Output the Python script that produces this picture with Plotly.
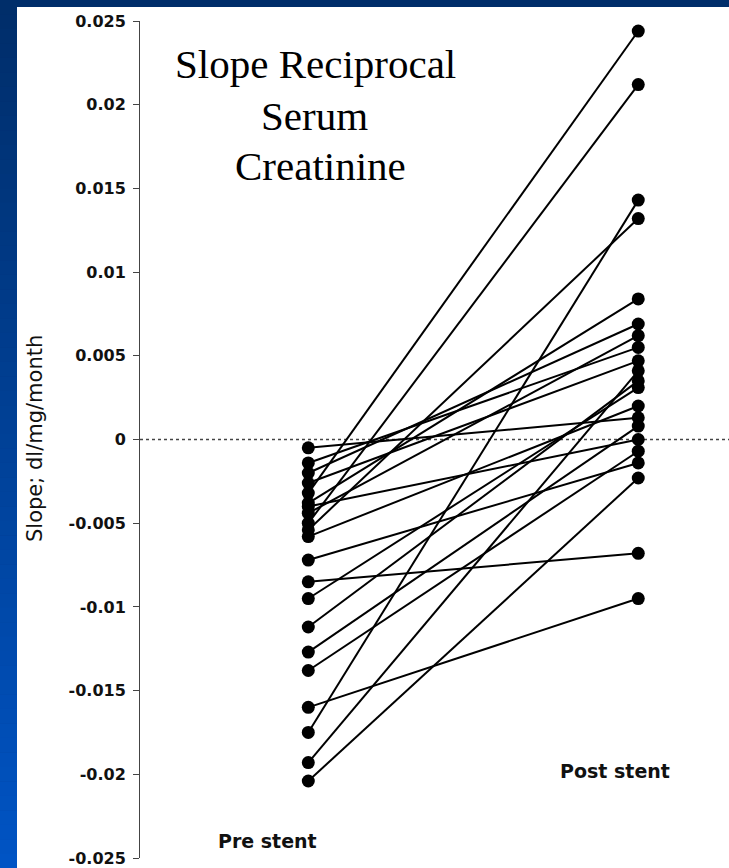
import plotly.graph_objects as go

# ---- data ----
groups = ["Pre stent", "Post stent"]
pre_values = [-0.0204, -0.0193, -0.0175, -0.0160, -0.0138, -0.0127, -0.0112,
              -0.0095, -0.0085, -0.0072, -0.0032, -0.0050, -0.0054, -0.0005,
              -0.0014, -0.0020, -0.0026, -0.0038, -0.0044, -0.0058, -0.0040]
post_values = [-0.0023, 0.0041, 0.0143, -0.0095, -0.0007, 0.0008, 0.0035,
               0.0031, -0.0068, -0.0014, 0.0244, 0.0212, 0.0132, 0.0013,
               0.0055, 0.0069, 0.0047, 0.0084, 0.0062, 0.0020, 0.0000]
tick_values = [0.025, 0.02, 0.015, 0.01, 0.005, 0, -0.005, -0.01, -0.015, -0.02, -0.025]
tick_labels = ["0.025", "0.02", "0.015", "0.01", "0.005", "0", "-0.005", "-0.01",
               "-0.015", "-0.02", "-0.025"]
title_lines = ["Slope Reciprocal", "Serum", "Creatinine"]
y_title = "Slope; dl/mg/month"

W, H = 729, 868
L, R, T, B = 140, 0, 21, 10
PW, PH = W - L - R, H - T - B


def px(x):
    return (x - L) / PW


def py(y):
    return (H - B - y) / PH


fig = go.Figure()
for a, b in zip(pre_values, post_values):
    fig.add_trace(go.Scatter(
        x=groups, y=[a, b], mode="lines+markers",
        line=dict(color="black", width=2),
        marker=dict(color="black", size=13),
        showlegend=False, hoverinfo="skip"))

shapes = []
# blue gradient frame (left strip) and navy top
n = 60
c0 = (0, 46, 106)
c1 = (0, 84, 196)
for i in range(n):
    t = i / (n - 1)
    col = "rgb(%d,%d,%d)" % tuple(int(c0[k] + (c1[k] - c0[k]) * t) for k in range(3))
    shapes.append(dict(type="rect", xref="paper", yref="paper",
                       x0=px(0), x1=px(17.5), y0=py(H * (i + 1) / n + 0.5), y1=py(H * i / n),
                       fillcolor=col, line=dict(width=0), layer="below"))
# white panel
shapes.append(dict(type="rect", xref="paper", yref="paper",
                   x0=px(17), x1=px(W + 2), y0=py(H + 2), y1=py(7),
                   fillcolor="white", line=dict(width=0), layer="below"))
# dotted zero reference line
shapes.append(dict(type="line", xref="paper", yref="y", x0=0, x1=1, y0=0, y1=0,
                   line=dict(color="#444444", width=1.3, dash="dot"), layer="below"))

annotations = []
title_pos = [(315, 64), (314, 116), (320, 166)]
for txt, (xx, yy) in zip(title_lines, title_pos):
    annotations.append(dict(text=txt, xref="paper", yref="paper", x=px(xx), y=py(yy),
                            xanchor="center", yanchor="middle", showarrow=False,
                            font=dict(family="Liberation Serif, Times New Roman, serif",
                                      size=41, color="black")))
annotations.append(dict(text=y_title, xref="paper", yref="paper", x=px(35), y=py(439),
                        xanchor="center", yanchor="middle", textangle=-90, showarrow=False,
                        font=dict(family="DejaVu Sans, Arial, sans-serif", size=21, color="#111111")))
label_pos = [(267, 841), (615, 771)]
for g, (xx, yy) in zip(groups, label_pos):
    annotations.append(dict(text=g, xref="paper", yref="paper", x=px(xx), y=py(yy),
                            xanchor="center", yanchor="middle", showarrow=False,
                            font=dict(family="DejaVu Sans, Arial, sans-serif", size=19,
                                      color="#111111", weight="bold")))

fig.update_layout(
    width=W, height=H,
    margin=dict(l=L, r=R, t=T, b=B, pad=0),
    paper_bgcolor="rgb(0,46,106)",
    plot_bgcolor="rgba(0,0,0,0)",
    shapes=shapes,
    annotations=annotations,
    xaxis=dict(type="category", range=[-0.51, 1.275], showline=False, showgrid=False,
               zeroline=False, showticklabels=False, ticks=""),
    yaxis=dict(range=[-0.025, 0.025], tickvals=tick_values, ticktext=tick_labels,
               showline=True, linecolor="#444444", linewidth=1, ticks="outside",
               ticklen=6, tickcolor="#444444", tickwidth=1, showgrid=False, zeroline=False,
               tickfont=dict(family="DejaVu Sans, Arial, sans-serif", size=16,
                             color="#111111", weight="bold"),
               ticklabelstandoff=4),
)

fig.write_html(
    "out.html",
    config={"displayModeBar": False},
    post_script="document.body.style.margin='0';document.body.style.overflow='hidden';",
)
